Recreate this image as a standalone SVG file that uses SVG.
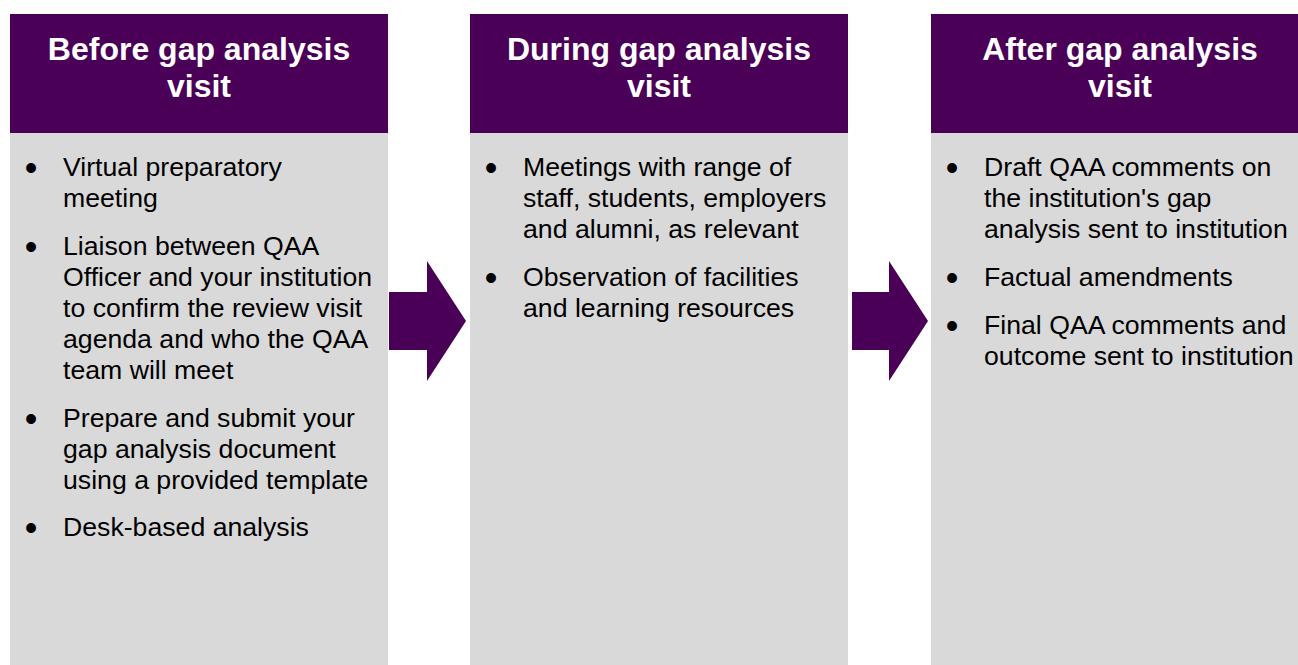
<svg xmlns="http://www.w3.org/2000/svg" width="1298" height="665" viewBox="0 0 1298 665">
  <style>
    .body { fill: #D9D9D9; }
    .head { fill: #4A0057; }
    .arrow { fill: #4A0057; }
    .title { font-family: "Liberation Sans", Arial, sans-serif; font-size: 32px; font-weight: bold; fill: #FFFFFF; text-anchor: middle; }
    .item { font-family: "Liberation Sans", Arial, sans-serif; font-size: 26.67px; fill: #000000; }
    .dot { font-family: "Liberation Sans", Arial, sans-serif; font-size: 36px; fill: #000000; text-anchor: middle; }
  </style>
  <rect width="1298" height="665" fill="#FFFFFF"/>

  <!-- Stage 1 -->
  <g id="before">
    <rect class="body" x="10" y="133" width="378" height="532"/>
    <rect class="head" x="10" y="14" width="378" height="119"/>
    <text class="title" x="199" y="60">Before gap analysis</text>
    <text class="title" x="199" y="97">visit</text>
    <text class="dot" x="31" y="180">•</text>
    <text class="item" x="63" y="176">Virtual preparatory</text>
    <text class="item" x="63" y="207">meeting</text>
    <text class="dot" x="31" y="259">•</text>
    <text class="item" x="63" y="255">Liaison between QAA</text>
    <text class="item" x="63" y="286">Officer and your institution</text>
    <text class="item" x="63" y="317">to confirm the review visit</text>
    <text class="item" x="63" y="348">agenda and who the QAA</text>
    <text class="item" x="63" y="379">team will meet</text>
    <text class="dot" x="31" y="431">•</text>
    <text class="item" x="63" y="427">Prepare and submit your</text>
    <text class="item" x="63" y="458">gap analysis document</text>
    <text class="item" x="63" y="489">using a provided template</text>
    <text class="dot" x="31" y="540">•</text>
    <text class="item" x="63" y="536">Desk-based analysis</text>
  </g>

  <!-- Stage 2 -->
  <g id="during">
    <rect class="body" x="470" y="133" width="378" height="532"/>
    <rect class="head" x="470" y="14" width="378" height="119"/>
    <text class="title" x="659" y="60">During gap analysis</text>
    <text class="title" x="659" y="97">visit</text>
    <text class="dot" x="491" y="180">•</text>
    <text class="item" x="523" y="176">Meetings with range of</text>
    <text class="item" x="523" y="207">staff, students, employers</text>
    <text class="item" x="523" y="238">and alumni, as relevant</text>
    <text class="dot" x="491" y="290">•</text>
    <text class="item" x="523" y="286">Observation of facilities</text>
    <text class="item" x="523" y="317">and learning resources</text>
  </g>

  <!-- Stage 3 -->
  <g id="after">
    <rect class="body" x="931" y="133" width="378" height="532"/>
    <rect class="head" x="931" y="14" width="378" height="119"/>
    <text class="title" x="1120" y="60">After gap analysis</text>
    <text class="title" x="1120" y="97">visit</text>
    <text class="dot" x="952" y="180">•</text>
    <text class="item" x="984" y="176">Draft QAA comments on</text>
    <text class="item" x="984" y="207">the institution's gap</text>
    <text class="item" x="984" y="238">analysis sent to institution</text>
    <text class="dot" x="952" y="290">•</text>
    <text class="item" x="984" y="286">Factual amendments</text>
    <text class="dot" x="952" y="338">•</text>
    <text class="item" x="984" y="334">Final QAA comments and</text>
    <text class="item" x="984" y="365">outcome sent to institution</text>
  </g>

  <!-- Block arrows between stages -->
  <g id="connectors">
    <polygon class="arrow" points="389,292 427,292 427,261 466,321 427,381 427,350 389,350"/>
    <polygon class="arrow" points="852,292 889,292 889,261 928,321 889,381 889,350 852,350"/>
  </g>
</svg>
